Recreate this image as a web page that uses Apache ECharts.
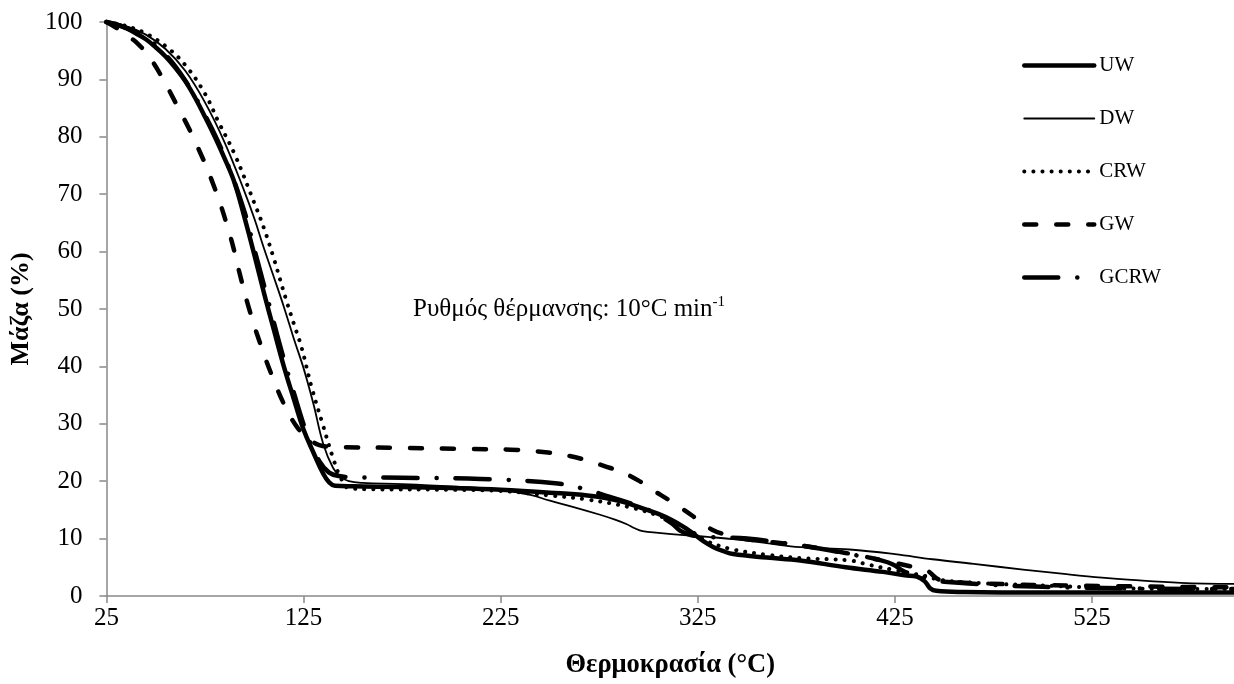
<!DOCTYPE html>
<html>
<head>
<meta charset="utf-8">
<script src="https://cdn.jsdelivr.net/npm/echarts@6/dist/echarts.min.js"></script>
<style>
  html, body { margin: 0; padding: 0; background: #ffffff; }
  #chart { width: 1234px; height: 684px; }
</style>
</head>
<body>
<div id="chart"></div>
<script>
// Thermogravimetric curves: mass (%) versus temperature (°C), heating rate 10 °C/min
const xTickValues = [25, 125, 225, 325, 425, 525];

const uwTemp = [25, 30, 35, 40, 45, 50, 55, 60, 65, 70, 75, 80, 85, 90, 95, 100, 105, 110, 115, 120, 125, 130, 135, 138, 141, 150, 175, 200, 225, 250, 269, 285, 296, 305, 312, 318, 323, 328, 333, 338, 343, 360, 377, 400, 419, 430, 436, 440, 443, 446, 460, 500, 550, 597];
const uwMass = [100, 99.6, 98.9, 98, 97, 95.6, 94, 92, 89.7, 86.8, 83.5, 80, 76.2, 72, 66, 59.5, 52.7, 46.3, 40, 34.4, 29, 25, 21.3, 19.8, 19.2, 19.1, 19.0, 18.8, 18.5, 18, 17.5, 16.6, 15.4, 14.3, 13.2, 12, 10.8, 9.5, 8.5, 7.8, 7.3, 6.7, 6.2, 5, 4.2, 3.6, 3.4, 2.6, 1.3, 0.9, 0.7, 0.6, 0.6, 0.6];

const dwTemp = [25, 35, 45, 55, 65, 75, 85, 95, 100, 105, 110, 115, 120, 125, 130, 135, 140, 144, 148, 155, 175, 200, 225, 240, 250, 262, 275, 283, 289, 293, 297, 305, 318, 330, 343, 360, 377, 402, 425, 444, 465, 490, 512, 530, 545, 570, 597];
const dwMass = [100, 99.3, 97.8, 95.3, 91.5, 86, 79, 70.5, 65.8, 60.5, 55.5, 50.4, 44.9, 39.7, 33.5, 26.5, 22.3, 20.7, 20.0, 19.7, 19.5, 19.1, 18.5, 17.6, 16.6, 15.5, 14.2, 13.3, 12.5, 11.8, 11.3, 11, 10.6, 10.3, 9.9, 9.2, 8.5, 8.1, 7.3, 6.4, 5.6, 4.6, 3.8, 3.2, 2.8, 2.3, 2.1];

const crwTemp = [25, 35, 45, 55, 65, 75, 82, 90, 100, 105, 110, 116, 120, 124, 129, 135, 140, 144, 148, 160, 200, 225, 250, 269, 290, 305, 315, 323, 330, 343, 360, 377, 402, 411, 425, 440, 448, 470, 495, 545, 597];
const crwMass = [100, 99.3, 98, 95.8, 92.5, 87.5, 82.5, 77, 68.5, 64, 58.7, 51.8, 47.5, 43.3, 36.5, 29.6, 24, 20.5, 18.8, 18.6, 18.5, 18.3, 17.5, 16.8, 15.5, 14, 12.5, 11, 9.5, 8.1, 7.2, 6.6, 6.2, 5.5, 4.5, 3.5, 2.8, 2.2, 1.9, 1.3, 1.2];

const gwTemp = [25, 30, 35, 41, 47, 53, 60, 70, 80, 88, 92, 97, 103, 110, 116, 122, 128, 133, 140, 175, 211, 230, 249, 260, 269, 278, 287, 295, 302, 310, 318, 325, 332, 340, 350, 377, 400, 419, 435, 441, 448, 470, 520, 597];
const gwMass = [100, 99, 97.8, 96.2, 93.8, 90.5, 86, 79.2, 71, 62.5, 57, 50.5, 44, 37.5, 32.8, 29.3, 27.3, 26.3, 26, 25.8, 25.6, 25.5, 25, 24.4, 23.6, 22.6, 21.5, 20.1, 18.5, 16.8, 15, 13.3, 11.6, 10.6, 9.9, 8.8, 7.5, 6.2, 5, 4.5, 2.8, 2.2, 1.8, 1.5];

const gcrwTemp = [25, 35, 45, 55, 65, 75, 85, 95, 100, 107, 114, 120, 127, 133, 138, 143, 150, 175, 215, 254, 269, 280, 292, 300, 307, 312, 316, 320, 325, 335, 350, 377, 402, 418, 424, 430, 440, 450, 500, 597];
const gcrwMass = [100, 99, 97.3, 94.3, 89.8, 83.8, 76.5, 67, 60.5, 51.5, 42.5, 35.5, 28, 23.5, 21.5, 20.9, 20.7, 20.6, 20.4, 19.6, 18.5, 17.3, 16, 15, 13.7, 12.6, 11.4, 10.8, 10.4, 10.2, 10, 8.8, 7.3, 6.2, 5.5, 4.2, 3.2, 2.5, 1.6, 1.2];

const FONT = '"Liberation Serif", "Times New Roman", serif';
const AXIS_GREY = '#898989';

function pairs(xs, ys) {
  return xs.map((x, i) => [x, ys[i]]);
}

function curve(name, xs, ys, width, dash) {
  return {
    name: name,
    type: 'line',
    data: pairs(xs, ys),
    symbol: 'none',
    showSymbol: false,
    smooth: 0.4,
    clip: false,
    lineStyle: { color: '#000000', width: width, type: dash, cap: 'round', join: 'round' },
    itemStyle: { color: '#000000' },
    emphasis: { disabled: true }
  };
}

const chart = echarts.init(document.getElementById('chart'), null, { renderer: 'canvas' });

chart.setOption({
  animation: false,
  backgroundColor: '#ffffff',
  grid: { left: 105, right: 0, top: 22, bottom: 86, containLabel: false },
  legend: {
    orient: 'vertical',
    left: 1022,
    top: 55,
    padding: 0,
    itemWidth: 70,
    itemHeight: 12,
    itemGap: 32,
    selectedMode: false,
    textStyle: { fontFamily: FONT, fontSize: 21, color: '#000000' },
    lineStyle: { width: 'inherit' },
    itemStyle: { color: 'rgba(0,0,0,0)', borderWidth: 0, opacity: 0 },
    data: ['UW', 'DW', 'CRW', 'GW', 'GCRW']
  },
  xAxis: {
    type: 'value',
    min: 25,
    max: 597,
    name: 'Θερμοκρασία (°C)',
    nameLocation: 'middle',
    nameGap: 56,
    nameTextStyle: { fontFamily: FONT, fontSize: 26.5, fontWeight: 'bold', color: '#000000' },
    axisLine: { show: true, onZero: false, lineStyle: { color: AXIS_GREY, width: 1.5 } },
    axisTick: { show: true, length: 7, customValues: xTickValues, lineStyle: { color: AXIS_GREY, width: 1.5 } },
    axisLabel: { customValues: xTickValues, fontFamily: FONT, fontSize: 25, color: '#000000', margin: 10 },
    splitLine: { show: false }
  },
  yAxis: {
    type: 'value',
    min: 0,
    max: 100,
    interval: 10,
    name: 'Μάζα (%)',
    nameLocation: 'middle',
    nameGap: 64,
    nameTextStyle: { fontFamily: FONT, fontSize: 26, fontWeight: 'bold', color: '#000000' },
    axisLine: { show: true, lineStyle: { color: AXIS_GREY, width: 1.5 } },
    axisTick: { show: true, length: 7, lineStyle: { color: AXIS_GREY, width: 1.5 } },
    axisLabel: { fontFamily: FONT, fontSize: 25, color: '#000000', margin: 24 },
    splitLine: { show: false }
  },
  graphic: [{
    type: 'text',
    left: 413,
    top: 295,
    style: {
      text: '{a|Ρυθμός θέρμανσης: 10°C min}{b|-1}',
      rich: {
        a: { fontFamily: FONT, fontSize: 25, fill: '#000000', lineHeight: 28 },
        b: { fontFamily: FONT, fontSize: 15, fill: '#000000', verticalAlign: 'top', lineHeight: 28 }
      }
    }
  }],
  series: [
    curve('DW', dwTemp, dwMass, 1.8, 'solid'),
    curve('CRW', crwTemp, crwMass, 4, [0.1, 9]),
    curve('GW', gwTemp, gwMass, 4.5, [12, 20]),
    curve('GCRW', gcrwTemp, gcrwMass, 4.5, [34, 19, 0.1, 19]),
    curve('UW', uwTemp, uwMass, 4.5, 'solid')
  ]
});
</script>
</body>
</html>
